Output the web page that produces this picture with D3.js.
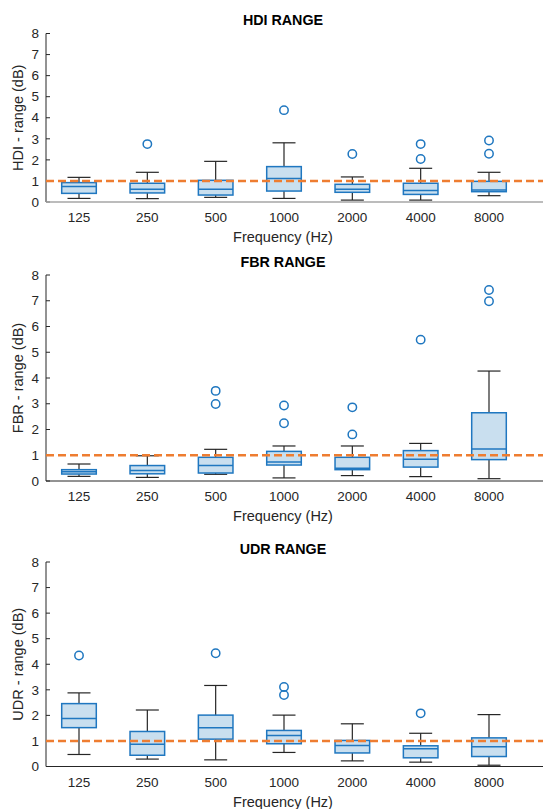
<!DOCTYPE html>
<html>
<head>
<meta charset="utf-8">
<script src="https://cdn.jsdelivr.net/npm/d3@7"></script>
<style>
  body { margin: 0; background: #fff; }
  svg text { font-family: "Liberation Sans", Arial, sans-serif; fill: #262626; }
</style>
</head>
<body>
<div id="chart"></div>
<script>
const frequencies = ['125', '250', '500', '1000', '2000', '4000', '8000']
const yTicks = [0, 1, 2, 3, 4, 5, 6, 7, 8]

// [whisker low, q1, median, q3, whisker high]
const hdiStats = [
  [0.17, 0.41, 0.73, 0.92, 1.17],
  [0.16, 0.43, 0.60, 0.89, 1.41],
  [0.22, 0.33, 0.60, 1.03, 1.93],
  [0.17, 0.52, 1.12, 1.68, 2.81],
  [0.09, 0.46, 0.60, 0.84, 1.19],
  [0.09, 0.36, 0.55, 0.89, 1.60],
  [0.30, 0.49, 0.57, 0.98, 1.41]
]
const hdiOutliers = [[], [2.75], [], [4.36], [2.28], [2.75, 2.04], [2.92, 2.29]]

const fbrStats = [
  [0.18, 0.27, 0.36, 0.44, 0.66],
  [0.14, 0.28, 0.41, 0.60, 0.98],
  [0.26, 0.31, 0.60, 0.92, 1.23],
  [0.12, 0.62, 0.74, 1.15, 1.36],
  [0.21, 0.44, 0.50, 0.92, 1.36],
  [0.17, 0.54, 0.84, 1.18, 1.46],
  [0.09, 0.83, 1.24, 2.65, 4.27]
]
const fbrOutliers = [[], [], [3.50, 2.99], [2.93, 2.24], [2.86, 1.81], [5.49], [7.42, 6.98]]

const udrStats = [
  [0.47, 1.52, 1.88, 2.46, 2.88],
  [0.29, 0.44, 0.87, 1.37, 2.21],
  [0.26, 1.07, 1.52, 2.01, 3.17],
  [0.55, 0.89, 1.21, 1.41, 2.01],
  [0.22, 0.53, 0.82, 1.02, 1.67],
  [0.17, 0.34, 0.69, 0.81, 1.30],
  [0.05, 0.39, 0.77, 1.12, 2.03]
]
const udrOutliers = [[4.34], [], [4.43], [3.11, 2.80], [], [2.08], []]

const refLevel = 1

const panels = [
  { title: 'HDI RANGE', ylabel: 'HDI - range (dB)', stats: hdiStats, outliers: hdiOutliers,
    titleY: 25, top: 33.5, bottom: 202, axisColor: '#a6a6a6' },
  { title: 'FBR RANGE', ylabel: 'FBR - range (dB)', stats: fbrStats, outliers: fbrOutliers,
    titleY: 267, top: 275, bottom: 481, axisColor: '#262626' },
  { title: 'UDR RANGE', ylabel: 'UDR - range (dB)', stats: udrStats, outliers: udrOutliers,
    titleY: 554, top: 562, bottom: 766.5, axisColor: '#262626' }
]

const width = 543, height = 809
const axisLeft = 46, axisRight = 543

const svg = d3.select('#chart').append('svg')
  .attr('width', width)
  .attr('height', height)

const x = d3.scaleLinear().domain([0, 6]).range([79, 489])
const boxHalf = 17.3
const capHalf = 11.5

panels.forEach(p => {
  const y = d3.scaleLinear().domain([0, 8]).range([p.bottom, p.top])
  const g = svg.append('g')

  g.append('text')
    .attr('x', 283).attr('y', p.titleY)
    .attr('text-anchor', 'middle')
    .attr('font-size', 14.3).attr('font-weight', 'bold')
    .style('fill', '#000')
    .text(p.title)

  // y axis
  g.append('line')
    .attr('x1', axisLeft).attr('x2', axisLeft)
    .attr('y1', y(8)).attr('y2', y(0))
    .attr('stroke', '#262626').attr('stroke-width', 1)
  g.selectAll('.ytick').data(yTicks).enter().append('line')
    .attr('x1', axisLeft).attr('x2', axisLeft + 4)
    .attr('y1', d => y(d)).attr('y2', d => y(d))
    .attr('stroke', '#262626')
  g.selectAll('.ylab').data(yTicks).enter().append('text')
    .attr('x', axisLeft - 7).attr('y', d => y(d))
    .attr('dy', '0.35em')
    .attr('text-anchor', 'end')
    .attr('font-size', 13.5)
    .text(d => d)

  g.append('text')
    .attr('transform', `translate(23,${(y(0) + y(8)) / 2}) rotate(-90)`)
    .attr('text-anchor', 'middle')
    .attr('font-size', 14.5)
    .text(p.ylabel)

  // x labels
  g.selectAll('.xlab').data(frequencies).enter().append('text')
    .attr('x', (d, i) => x(i)).attr('y', y(0) + 20)
    .attr('text-anchor', 'middle')
    .attr('font-size', 13.5)
    .text(d => d)
  g.append('text')
    .attr('x', 283).attr('y', y(0) + 40)
    .attr('text-anchor', 'middle')
    .attr('font-size', 14.5)
    .text('Frequency (Hz)')

  // whiskers
  const boxes = g.selectAll('.box').data(p.stats).enter().append('g')
  boxes.append('line')
    .attr('x1', (d, i) => x(i)).attr('x2', (d, i) => x(i))
    .attr('y1', d => y(d[0])).attr('y2', d => y(d[4]))
    .attr('stroke', '#262626').attr('stroke-width', 1.2)
  boxes.selectAll('.cap').data(d => [d[0], d[4]]).enter().append('line')
    .each(function (v) {
      const i = p.stats.indexOf(d3.select(this.parentNode).datum())
      d3.select(this)
        .attr('x1', x(i) - capHalf).attr('x2', x(i) + capHalf)
        .attr('y1', y(v)).attr('y2', y(v))
    })
    .attr('stroke', '#262626').attr('stroke-width', 1.2)
  boxes.append('rect')
    .attr('x', (d, i) => x(i) - boxHalf)
    .attr('width', boxHalf * 2)
    .attr('y', d => y(d[3]))
    .attr('height', d => y(d[1]) - y(d[3]))
    .attr('fill', '#c9dfef')
    .attr('stroke', '#1f77c0').attr('stroke-width', 1.5)
  boxes.append('line')
    .attr('x1', (d, i) => x(i) - boxHalf).attr('x2', (d, i) => x(i) + boxHalf)
    .attr('y1', d => y(d[2])).attr('y2', d => y(d[2]))
    .attr('stroke', '#1f77c0').attr('stroke-width', 1.5)

  // outliers
  p.outliers.forEach((vals, i) => {
    g.selectAll(null).data(vals).enter().append('circle')
      .attr('cx', x(i)).attr('cy', d => y(d))
      .attr('r', 4.2)
      .attr('fill', 'none')
      .attr('stroke', '#1f77c0').attr('stroke-width', 1.5)
  })

  // x axis
  g.append('line')
    .attr('x1', axisLeft).attr('x2', axisRight)
    .attr('y1', y(0)).attr('y2', y(0))
    .attr('stroke', p.axisColor).attr('stroke-width', p.axisColor === '#262626' ? 1 : 1.6)

  // reference line
  g.append('line')
    .attr('x1', axisLeft).attr('x2', axisRight)
    .attr('y1', y(refLevel)).attr('y2', y(refLevel))
    .attr('stroke', '#ee7d31').attr('stroke-width', 2.6)
    .attr('stroke-dasharray', '8,4')
})
</script>
</body>
</html>
